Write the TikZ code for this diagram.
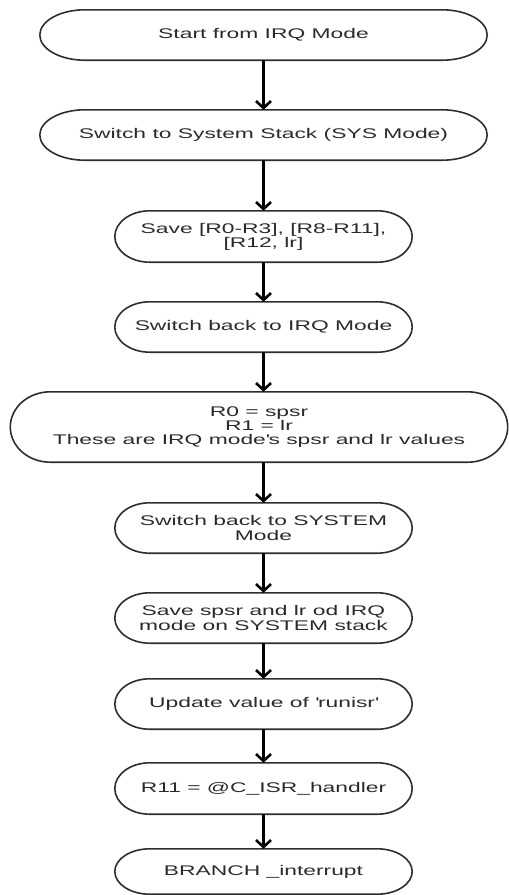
\documentclass[tikz,border=0pt]{standalone}
\usepackage{fontspec}
\setmainfont[FakeStretch=1.63]{Liberation Sans}
\usetikzlibrary{arrows.meta,calc}

\definecolor{inkline}{HTML}{2E2E2E}
\definecolor{inktext}{HTML}{2A2A2A}

\tikzset{
  stepbox/.style={draw=none, rectangle, align=center, inner sep=0pt,
    text=inktext, font=\fontsize{14}{14.2}\selectfont},
  outline/.style={draw=inkline, line width=1.6pt},
  flow/.style={draw=black, line width=2.6pt,
    -{Straight Barb[length=7pt,width=15pt,line width=2.6pt]}}
}

\begin{document}
\begin{tikzpicture}[x=1pt,y=-1pt]
\useasboundingbox (0,0) rectangle (509,895);

\node[stepbox, minimum width=447pt, minimum height=50pt] (b1) at (263.5,35) {Start from IRQ Mode};
\node[stepbox, minimum width=447pt, minimum height=50pt] (b2) at (263.5,135) {Switch to System Stack (SYS Mode)};
\node[stepbox, minimum width=297pt, minimum height=51pt] (b3) at (263.5,236.5) {Save [R0-R3], [R8-R11],\\{}[R12, lr]};
\node[stepbox, minimum width=297pt, minimum height=50pt] (b4) at (263.5,327) {Switch back to IRQ Mode};
\node[stepbox, minimum width=497pt, minimum height=70pt] (b5) at (259,427) {R0 = spsr\\ R1 = lr\\ These are IRQ mode\textquotesingle s spsr and lr values};
\node[stepbox, minimum width=297pt, minimum height=50pt] (b6) at (263.5,528) {Switch back to SYSTEM\\ Mode};
\node[stepbox, minimum width=297pt, minimum height=50pt] (b7) at (263.5,618) {Save spsr and lr od IRQ\\ mode on SYSTEM stack};
\node[stepbox, minimum width=297pt, minimum height=50pt] (b8) at (263.5,704) {Update value of \textquotesingle runisr\textquotesingle};
\node[stepbox, minimum width=297pt, minimum height=51pt] (b9) at (263.5,788.5) {R11 = @C\_ISR\_handler};
\node[stepbox, minimum width=297pt, minimum height=45pt] (b10) at (263.5,871.5) {BRANCH \_interrupt};

% stadium outlines with half-ellipse ends
\foreach \b/\r in {b1/45,b2/45,b3/35,b4/35,b5/40,b6/35,b7/35,b8/35,b9/35,b10/35}{
  \draw[outline] let \p1=(\b.north west), \p2=(\b.south east), \n1={(\y1-\y2)/2} in
    (\x1+\r pt,\y1) -- (\x2-\r pt,\y1)
    arc[start angle=90, end angle=-90, x radius=\r pt, y radius=\n1]
    -- (\x1+\r pt,\y2)
    arc[start angle=270, end angle=90, x radius=\r pt, y radius=\n1]
    -- cycle;
}

\draw[flow] (b1.south) -- (b2.north);
\draw[flow] (b2.south) -- (b3.north);
\draw[flow] (b3.south) -- (b4.north);
\draw[flow] (b4.south) -- (b5.north -| b4.south);
\draw[flow] (b5.south -| b6.north) -- (b6.north);
\draw[flow] (b6.south) -- (b7.north);
\draw[flow] (b7.south) -- (b8.north);
\draw[flow] (b8.south) -- (b9.north);
\draw[flow] (b9.south) -- (b10.north);
\end{tikzpicture}
\end{document}
